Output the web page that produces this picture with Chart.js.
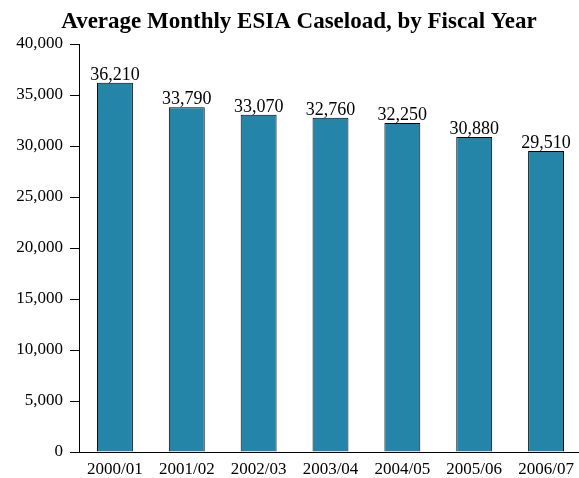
<!DOCTYPE html>
<html>
<head>
<meta charset="utf-8">
<script src="https://cdn.jsdelivr.net/npm/chart.js@4.4.0/dist/chart.umd.min.js"></script>
<style>
  html, body { margin: 0; padding: 0; background: #fff; overflow: hidden; }
  #wrap { width: 582px; height: 478px; }
</style>
</head>
<body>
<div id="wrap"><canvas id="c" width="582" height="478"></canvas></div>
<script>
// Fiscal years and average monthly caseload
const fiscalYears = ['2000/01', '2001/02', '2002/03', '2003/04', '2004/05', '2005/06', '2006/07'];
const caseload = [36210, 33790, 33070, 32760, 32250, 30880, 29510];
const yTicks = [0, 5000, 10000, 15000, 20000, 25000, 30000, 35000, 40000];

const titleText = 'Average Monthly ESIA Caseload, by Fiscal Year';
const serif = "'Liberation Serif', 'Times New Roman', serif";

const fmt = v => v.toLocaleString('en-US');

// Heading drawn at a fixed position above the plot
const titlePlugin = {
  id: 'heading',
  afterDraw(chart) {
    const ctx = chart.ctx;
    ctx.save();
    ctx.font = 'bold 23px ' + serif;
    ctx.fillStyle = '#000';
    ctx.textAlign = 'center';
    ctx.textBaseline = 'alphabetic';
    ctx.fillText(titleText, 299, 28);
    ctx.restore();
  }
};

// Value labels above each bar
const valueLabels = {
  id: 'valueLabels',
  afterDatasetsDraw(chart) {
    const ctx = chart.ctx;
    const meta = chart.getDatasetMeta(0);
    const data = chart.data.datasets[0].data;
    ctx.save();
    ctx.font = '18px ' + serif;
    ctx.fillStyle = '#000';
    ctx.textAlign = 'center';
    ctx.textBaseline = 'alphabetic';
    meta.data.forEach((bar, i) => {
      ctx.fillText(fmt(data[i]), bar.x, bar.y - 3);
    });
    ctx.restore();
  }
};

new Chart(document.getElementById('c'), {
  type: 'bar',
  data: {
    labels: fiscalYears,
    datasets: [{
      data: caseload,
      backgroundColor: '#2485a8',
      borderColor: '#000',
      borderWidth: 1,
      barPercentage: 0.5,
      categoryPercentage: 1.0
    }]
  },
  options: {
    responsive: false,
    devicePixelRatio: 1,
    animation: false,
    layout: { padding: { top: 44, right: 0, bottom: 0, left: 0 } },
    plugins: {
      legend: { display: false },
      title: { display: false },
      tooltip: { enabled: false }
    },
    scales: {
      x: {
        grid: { display: false, drawTicks: false },
        border: { display: true, color: '#000', width: 1 },
        ticks: {
          color: '#000',
          font: { family: serif, size: 17 },
          padding: 7,
          maxRotation: 0
        },
        afterFit(scale) { scale.height = 26; }
      },
      y: {
        min: 0,
        max: 40000,
        afterBuildTicks(scale) { scale.ticks = yTicks.map(v => ({ value: v })); },
        grid: { drawOnChartArea: false, drawTicks: true, tickLength: 9, color: '#000' },
        border: { display: true, color: '#000', width: 1 },
        ticks: {
          color: '#000',
          font: { family: serif, size: 17 },
          padding: 7,
          callback: v => fmt(v)
        },
        afterFit(scale) { scale.width = 79; }
      }
    }
  },
  plugins: [titlePlugin, valueLabels]
});
</script>
</body>
</html>
